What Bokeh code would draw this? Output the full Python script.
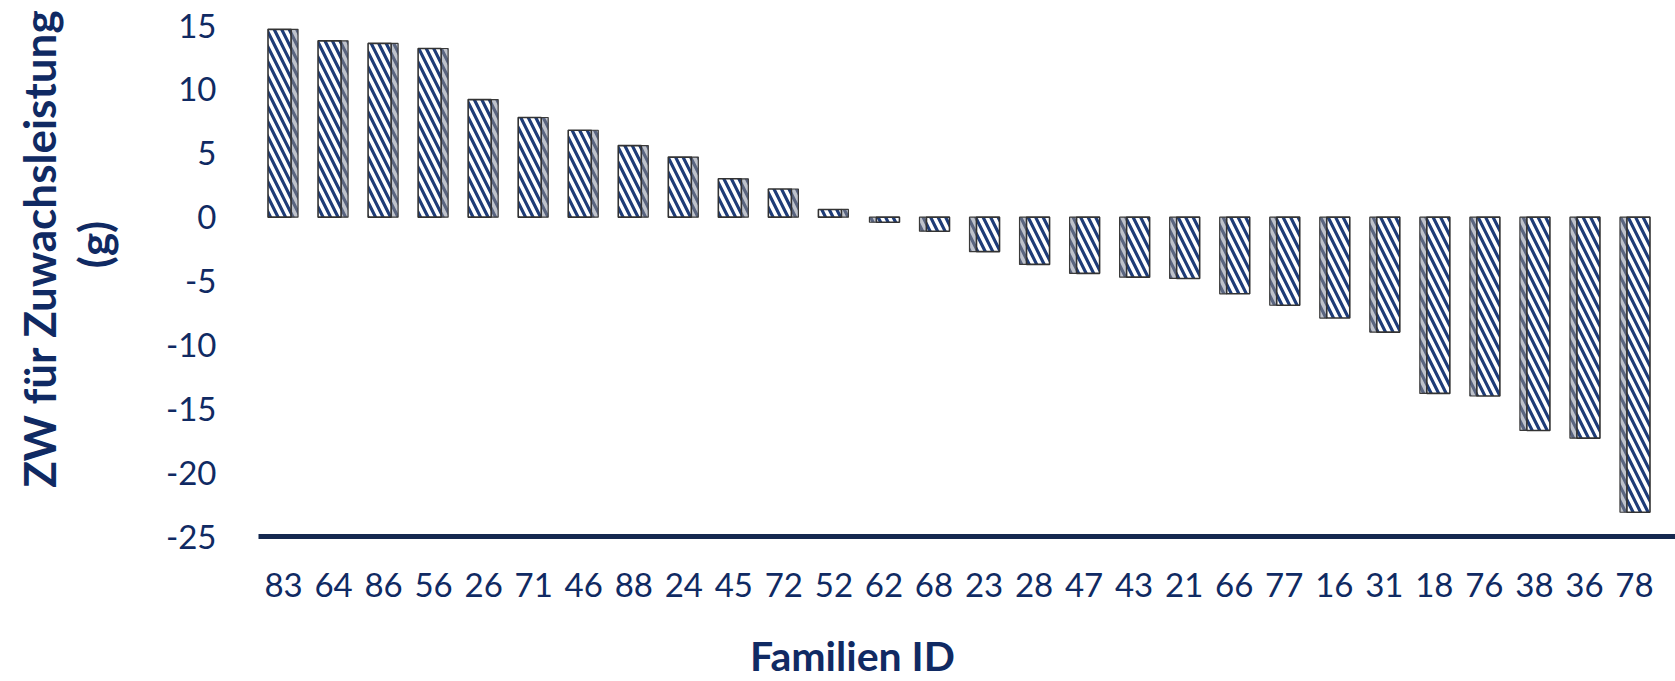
import math
from bokeh.plotting import figure
from bokeh.models import Label, FixedTicker, Range1d, ColumnDataSource
from bokeh.transform import dodge
from bokeh.embed import file_html
from bokeh.resources import INLINE

families = ["83", "64", "86", "56", "26", "71", "46", "88", "24", "45", "72", "52", "62", "68",
            "23", "28", "47", "43", "21", "66", "77", "16", "31", "18", "76", "38", "36", "78"]
values = [14.7, 13.8, 13.6, 13.2, 9.2, 7.8, 6.8, 5.6, 4.7, 3.0, 2.2, 0.6, -0.4, -1.1,
          -2.7, -3.7, -4.4, -4.7, -4.8, -6.0, -6.9, -7.9, -9.0, -13.8, -14.0, -16.7, -17.3, -23.1]
y_ticks = [-25, -20, -15, -10, -5, 0, 5, 10, 15]
Y_MIN, Y_MAX = -25, 15

positions = list(range(len(families)))

NAVY = "#102a63"
FONT = "Lato"

W, H = 1675, 681
FRAME_L, FRAME_R, FRAME_T, FRAME_B = 258, 1659, 25, 536   # pixel box of the value area

# extend data ranges so that the whole canvas is the frame
px_per_x = (FRAME_R - FRAME_L) / len(families)
px_per_y = (FRAME_B - FRAME_T) / (Y_MAX - Y_MIN)
x_start = -0.5 - FRAME_L / px_per_x
x_end = x_start + W / px_per_x
y_end = Y_MAX + FRAME_T / px_per_y
y_start = Y_MIN - (H - FRAME_B) / px_per_y

src_pos = ColumnDataSource(dict(pos=[i for i, v in zip(positions, values) if v >= 0],
                                val=[v for v in values if v >= 0]))
src_neg = ColumnDataSource(dict(pos=[i for i, v in zip(positions, values) if v < 0],
                                val=[v for v in values if v < 0]))

p = figure(x_range=Range1d(x_start, x_end), y_range=Range1d(y_start, y_end),
           width=W, height=H, output_backend="svg", toolbar_location=None,
           min_border=0)
p.outline_line_color = None
p.background_fill_color = "white"
p.border_fill_color = "white"
p.xgrid.grid_line_color = None
p.ygrid.grid_line_color = None

hatch_kw = dict(hatch_pattern="\\", hatch_scale=15, hatch_weight=3.2)

# side faces (3D look)
p.vbar(x=dodge("pos", 0.22), top="val", bottom=0, width=0.14, source=src_pos,
       fill_color="#bfc3cc", line_color="#3a3a3a", line_width=1.2, hatch_color="#5a6580", **hatch_kw)
p.vbar(x=dodge("pos", -0.22), top="val", bottom=0, width=0.14, source=src_neg,
       fill_color="#bfc3cc", line_color="#3a3a3a", line_width=1.2, hatch_color="#5a6580", **hatch_kw)
# front faces
p.vbar(x=dodge("pos", -0.08), top="val", bottom=0, width=0.46, source=src_pos,
       fill_color="white", line_color="#333333", line_width=1.6, hatch_color="#1e3c78", **hatch_kw)
p.vbar(x=dodge("pos", 0.08), top="val", bottom=0, width=0.46, source=src_neg,
       fill_color="white", line_color="#333333", line_width=1.6, hatch_color="#1e3c78", **hatch_kw)

# floor line at the bottom of the value axis
p.segment(x0=[-0.5], x1=[x_end], y0=[Y_MIN], y1=[Y_MIN], line_color="#14284f", line_width=5)

# axes
ya = p.yaxis[0]
ya.fixed_location = -0.5
ya.ticker = FixedTicker(ticks=y_ticks)
ya.major_label_overrides = {t: str(t) for t in y_ticks}
ya.axis_line_color = None
ya.major_tick_line_color = None
ya.minor_tick_line_color = None
ya.major_label_standoff = 36
ya.major_label_text_font = FONT
ya.major_label_text_font_size = "33px"
ya.major_label_text_color = NAVY

xa = p.xaxis[0]
xa.fixed_location = Y_MIN
xa.ticker = FixedTicker(ticks=positions)
xa.major_label_overrides = {i: f for i, f in zip(positions, families)}
xa.axis_line_color = None
xa.major_tick_line_color = None
xa.minor_tick_line_color = None
xa.major_label_standoff = 30
xa.major_label_text_font = FONT
xa.major_label_text_font_size = "33px"
xa.major_label_text_color = NAVY

# axis titles (screen units)
title_kw = dict(x_units="screen", y_units="screen", text_font=FONT, text_font_style="bold",
                text_color=NAVY, text_align="center", text_baseline="middle")
p.add_layout(Label(x=852, y=H - 655, text="Familien ID", text_font_size="41px", **title_kw))
p.add_layout(Label(x=38, y=H - 248, text="ZW für Zuwachsleistung", angle=math.pi / 2,
                   text_font_size="44px", **title_kw))
p.add_layout(Label(x=93, y=H - 244, text="(g)", angle=math.pi / 2,
                   text_font_size="44px", **title_kw))

open("out.html", "w").write(file_html(p, INLINE))
